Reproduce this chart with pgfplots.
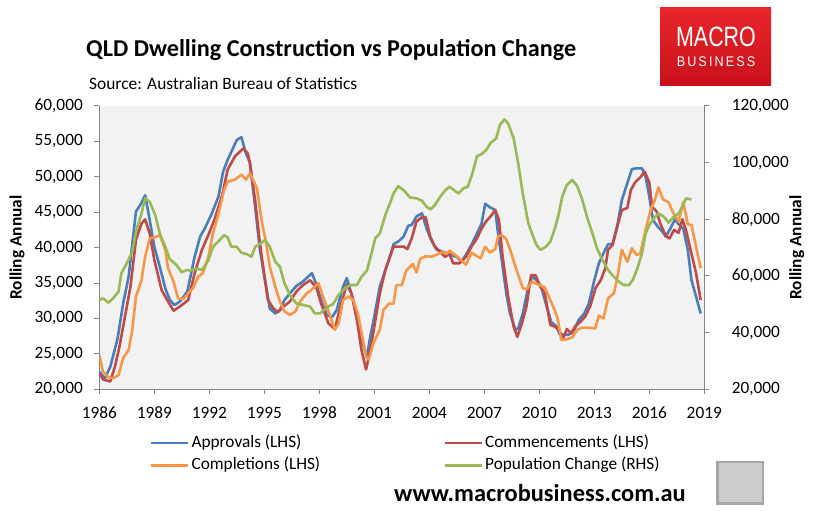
\documentclass[border=0pt]{standalone}
\usepackage{fontspec}
\setmainfont{Carlito}
\newfontfamily\logofont{Liberation Sans}
\usepackage{pgfplots}
\pgfplotsset{compat=1.18}
\definecolor{cblue}{HTML}{4A7EBB}
\definecolor{cred}{HTML}{BE4B48}
\definecolor{corange}{HTML}{F79646}
\definecolor{cgreen}{HTML}{98B954}
\definecolor{axgray}{HTML}{868686}
\definecolor{plotbg}{HTML}{F2F2F2}
\definecolor{mbred}{HTML}{E8262B}
\definecolor{mbdark}{HTML}{C8101A}

\pgfplotstableread{
x y
1986.0 22500
1986.3 21500
1986.6 23200
1987.0 27200
1987.3 32100
1987.6 35900
1988.0 45100
1988.3 46300
1988.5 47400
1988.75 43900
1989.0 40150
1989.3 37300
1989.6 34260
1989.85 32600
1990.1 31900
1990.4 32400
1990.8 33800
1991.2 38700
1991.5 41560
1991.75 42700
1992.1 44600
1992.5 47200
1992.75 50700
1993.0 52400
1993.5 55200
1993.75 55600
1994.0 53300
1994.22 52000
1994.5 45800
1994.76 39700
1995.04 35400
1995.3 31400
1995.6 30700
1995.85 31200
1996.1 32600
1996.4 33550
1996.75 34600
1997.1 35200
1997.6 36400
1997.85 34700
1998.1 32600
1998.4 30500
1998.7 30200
1998.95 31200
1999.3 34500
1999.5 35700
1999.75 33550
2000.05 30700
2000.3 27000
2000.6 24600
2000.75 27000
2001.0 30260
2001.3 34500
2001.6 36800
2001.85 38700
2002.05 40500
2002.3 40850
2002.6 41560
2002.85 43100
2003.04 43200
2003.3 44400
2003.6 44850
2003.85 42700
2004.1 41100
2004.4 39700
2004.76 39400
2005.1 39000
2005.5 38700
2005.75 38000
2006.0 39000
2006.3 40400
2006.6 42000
2006.85 43400
2007.05 46200
2007.3 45700
2007.6 45300
2007.75 42000
2007.95 38300
2008.2 33550
2008.4 30700
2008.7 28400
2008.85 28600
2009.1 30700
2009.4 34500
2009.6 35900
2009.85 35400
2010.1 34500
2010.4 31700
2010.65 29500
2010.95 28850
2011.1 27800
2011.35 27700
2011.6 27700
2011.9 28400
2012.15 29800
2012.45 30700
2012.7 32100
2013.0 35400
2013.25 37800
2013.5 39200
2013.75 40500
2014.0 40500
2014.25 43000
2014.5 46700
2014.8 49100
2015.05 51100
2015.3 51200
2015.6 51200
2015.8 50000
2016.0 47200
2016.2 43900
2016.45 43000
2016.7 42300
2016.9 41560
2017.15 42700
2017.4 44000
2017.6 43300
2017.85 42700
2018.1 39700
2018.3 35400
2018.55 33100
2018.8 30700
}\approvals

\pgfplotstableread{
x y
1986.0 22260
1986.2 21400
1986.6 21100
1986.85 23200
1987.1 26000
1987.4 30260
1987.7 34500
1988.0 41100
1988.3 43400
1988.5 44000
1988.75 42000
1989.0 38300
1989.4 34000
1989.75 32400
1990.05 31100
1990.4 31700
1990.85 32600
1991.2 36400
1991.6 39700
1991.95 41800
1992.3 44100
1992.7 47400
1993.0 51000
1993.4 52900
1993.85 54000
1994.1 53300
1994.22 51800
1994.5 46700
1994.76 40600
1995.04 35400
1995.2 32600
1995.5 31400
1995.75 30900
1996.05 31700
1996.4 32400
1996.75 33800
1997.1 34700
1997.5 35400
1997.85 34300
1998.1 32100
1998.5 29300
1998.85 28500
1999.1 31200
1999.5 34800
1999.75 33550
2000.05 29800
2000.3 25550
2000.55 22800
2000.75 25100
2001.0 28850
2001.3 33550
2001.6 36800
2001.85 38700
2002.05 40150
2002.3 40150
2002.6 40150
2002.8 39800
2003.04 41300
2003.3 43700
2003.6 44300
2003.8 44300
2004.05 41560
2004.3 40150
2004.6 39400
2004.85 38700
2005.1 39100
2005.3 37800
2005.65 37800
2006.0 38700
2006.3 40150
2006.6 41300
2006.85 42700
2007.1 43700
2007.4 44600
2007.6 45300
2007.8 43900
2008.0 38700
2008.3 33100
2008.6 28850
2008.8 27400
2009.05 29300
2009.3 31700
2009.55 36100
2009.8 36100
2010.05 34500
2010.3 33550
2010.6 29100
2010.85 28850
2011.07 28400
2011.3 27200
2011.5 28500
2011.75 27900
2011.95 28850
2012.25 29550
2012.5 30260
2012.8 31900
2013.07 34300
2013.35 35400
2013.6 37100
2013.75 39700
2014.0 40400
2014.25 43000
2014.5 45300
2014.8 45600
2015.0 48200
2015.25 49300
2015.5 49900
2015.75 50700
2016.0 49200
2016.15 45800
2016.4 45100
2016.6 43400
2016.9 41650
2017.1 41300
2017.35 42500
2017.6 42100
2017.8 44000
2018.0 42500
2018.25 39700
2018.55 36400
2018.8 32600
}\commencements

\pgfplotstableread{
x y
1986.0 24850
1986.2 22500
1986.5 21700
1986.75 21550
1987.05 22000
1987.3 24400
1987.6 25550
1987.8 28400
1988.0 33100
1988.3 35400
1988.5 38700
1988.75 41300
1989.05 41450
1989.3 41800
1989.6 39700
1989.75 37100
1990.05 35200
1990.3 32800
1990.6 32800
1990.85 33550
1991.1 34260
1991.4 35900
1991.65 36400
1991.95 38700
1992.2 42000
1992.5 44800
1992.8 48100
1993.0 49300
1993.4 49600
1993.75 50300
1994.0 49600
1994.22 50500
1994.6 48400
1994.85 43900
1995.1 40600
1995.3 37300
1995.6 34500
1995.85 32400
1996.1 31000
1996.4 30500
1996.7 31000
1996.95 32400
1997.3 33500
1997.6 34100
1997.95 35000
1998.2 33100
1998.6 30300
1998.85 28400
1999.05 29300
1999.3 32600
1999.6 33100
1999.85 32600
2000.1 30700
2000.35 27400
2000.55 24600
2000.7 24200
2000.95 26500
2001.3 28400
2001.5 31200
2001.8 32100
2002.05 32100
2002.2 34700
2002.5 34700
2002.75 36800
2003.1 37700
2003.3 36500
2003.5 38400
2003.8 38800
2004.1 38700
2004.4 39000
2004.7 39400
2004.95 39100
2005.1 39600
2005.4 39000
2005.7 38300
2006.0 37600
2006.3 39300
2006.6 38800
2006.8 38500
2007.05 40150
2007.3 39300
2007.6 39800
2007.75 41560
2007.95 41800
2008.2 41200
2008.45 39400
2008.7 37300
2008.95 35400
2009.1 34300
2009.3 34100
2009.6 35200
2009.85 34900
2010.1 34600
2010.3 34400
2010.6 32600
2010.85 31100
2011.0 30000
2011.2 26970
2011.5 27060
2011.8 27350
2012.07 28400
2012.35 28700
2012.7 28700
2013.05 28600
2013.25 30400
2013.5 30000
2013.75 32850
2014.07 33550
2014.3 36400
2014.5 39700
2014.8 38000
2015.05 39900
2015.3 39000
2015.5 39100
2015.8 42500
2016.07 45300
2016.3 46700
2016.5 48500
2016.75 46800
2017.05 46400
2017.3 44900
2017.6 43700
2017.85 46400
2018.1 43300
2018.3 43200
2018.55 40150
2018.8 37100
}\completions

\pgfplotstableread{
x y
1986.0 51500
1986.2 52100
1986.5 50600
1986.75 52100
1987.05 54500
1987.2 60900
1987.5 64450
1987.8 68600
1988.0 75600
1988.3 82100
1988.5 87400
1988.75 86200
1989.05 81500
1989.3 75000
1989.6 70300
1989.85 65900
1990.2 63900
1990.5 61300
1990.75 62100
1991.0 61900
1991.3 62700
1991.6 62100
1991.95 65600
1992.2 70300
1992.6 72900
1992.8 74400
1993.0 73600
1993.2 70300
1993.5 70300
1993.75 68200
1994.05 67700
1994.3 66800
1994.5 70300
1994.76 71300
1995.04 72700
1995.3 70300
1995.6 65000
1995.85 63300
1996.1 57400
1996.4 53300
1996.75 50300
1997.1 49800
1997.5 49200
1997.75 46800
1998.05 46800
1998.4 48900
1998.75 50100
1999.05 53300
1999.4 55600
1999.7 56800
2000.05 56800
2000.3 59700
2000.6 61900
2000.85 68000
2001.05 73300
2001.3 75000
2001.6 81500
2001.85 85600
2002.05 89100
2002.3 91700
2002.6 90300
2002.95 87700
2003.3 87400
2003.6 86600
2003.85 84400
2004.07 83500
2004.3 85000
2004.6 88000
2004.85 90100
2005.1 91500
2005.35 90300
2005.6 89100
2005.85 90900
2006.1 91500
2006.35 96200
2006.6 102300
2006.85 103000
2007.1 104400
2007.35 107000
2007.65 108600
2007.85 113300
2008.1 115300
2008.3 113800
2008.6 108600
2008.85 99700
2009.1 89100
2009.4 78600
2009.6 75000
2009.85 70900
2010.07 69200
2010.35 70300
2010.6 72100
2010.85 76800
2011.05 81500
2011.25 88000
2011.5 92100
2011.8 93900
2012.07 91700
2012.35 86800
2012.6 80900
2012.9 75000
2013.15 69700
2013.45 65600
2013.75 62100
2014.07 59700
2014.35 58000
2014.6 56800
2014.9 56800
2015.1 58600
2015.35 62700
2015.6 68000
2015.8 75000
2016.0 78000
2016.25 80300
2016.5 82100
2016.8 80900
2017.05 78800
2017.3 80700
2017.6 82100
2017.8 84400
2018.0 87400
2018.3 87000
}\population

\pgfplotsset{
  mystyle/.style={
    at={(99.3pt,134.7pt)}, anchor=south west,
    scale only axis, width=605pt, height=283.3pt,
    xmin=1986, xmax=2019,
    axis line style={axgray, line width=1pt},
    tick style={axgray, line width=1pt},
    tick align=outside, major tick length=5pt,
    scaled ticks=false,
    /pgf/number format/fixed,
    /pgf/number format/precision=0,
    /pgf/number format/1000 sep={,},
    /pgf/number format/assume math mode=true,
  },
}

\begin{document}
\begin{tikzpicture}[x=1pt,y=1pt]
\useasboundingbox (0,0) rectangle (819,524);
\fill[white] (0,0) rectangle (819,524);

% title and source
\node[anchor=west, inner sep=0pt] at (86,474) {\fontsize{24.2}{28}\selectfont\bfseries QLD Dwelling Construction vs Population Change};
\node[anchor=west, inner sep=0pt] at (89,440) {\fontsize{17.4}{20}\selectfont Source: Australian Bureau of Statistics};

% logo
\shade[top color=mbred, bottom color=mbdark] (660,438) rectangle (771,516);
\node[white, inner sep=0pt] at (716,487) {\logofont\fontsize{28}{28}\selectfont\scalebox{0.765}[1]{MACRO}};
\node[white, inner sep=0pt] at (716,462) {\logofont\fontsize{14}{14}\selectfont\scalebox{0.9}[1]{B\,U\,S\,I\,N\,E\,S\,S}};

% website and wolf box
\node[inner sep=0pt] at (540,31) {\fontsize{24.4}{28}\selectfont\bfseries www.macrobusiness.com.au};
\filldraw[fill=gray!40, draw=gray!70, line width=2.5pt] (717.5,20.5) rectangle (763,62);

\begin{axis}[
  mystyle,
  ticklabel style={font=\fontsize{17.3}{20}\selectfont},
  ymin=20000, ymax=60000,
  ytick={20000,25000,...,60000},
  xtick={1986,1989,...,2019},
  axis background/.style={fill=plotbg},
  axis x line*=bottom, axis y line*=left,
  xticklabel style={/pgf/number format/1000 sep={}, yshift=-9pt},
  yticklabel style={xshift=-8pt},
  ylabel={\bfseries Rolling Annual},
  ylabel style={font=\fontsize{17.3}{20}\selectfont, at={(axis description cs:-0.136,0.5)}, anchor=center},
  legend columns=2,
  legend cell align=left,
  legend image code/.code={\draw[#1] (0pt,0pt) -- (37pt,0pt);},
  legend style={draw=none, fill=none, inner sep=0pt, outer sep=0pt,
    at={(0.0837,-0.162)}, anchor=north west,
    font=\fontsize{17.3}{20}\selectfont,
    nodes={inner sep=0pt, text height=12pt, text depth=4pt},
    /tikz/every odd column/.append style={column sep=2pt},
    /tikz/every even column/.append style={column sep=0pt},
    row sep=6.6pt},
]
\addplot[cblue, line width=2.6pt, line join=round] table {\approvals};
\addlegendentry{\makebox[252pt][l]{Approvals (LHS)}}
\addplot[cred, line width=2.6pt, line join=round] table {\commencements};
\addlegendentry{Commencements (LHS)}
\addplot[corange, line width=2.6pt, line join=round] table {\completions};
\addlegendentry{\makebox[252pt][l]{Completions (LHS)}}
\addlegendimage{cgreen, line width=2.6pt}
\addlegendentry{Population Change (RHS)}
\end{axis}

\begin{axis}[
  mystyle,
  ymin=20000, ymax=120000,
  ytick={20000,40000,...,120000},
  axis x line=none, axis y line*=right,
  ticklabel style={font=\fontsize{17.3}{20}\selectfont, xshift=19pt},
  yticklabel={\makebox[57pt][l]{\pgfmathprintnumber{\tick}}},
  ylabel={\bfseries Rolling Annual},
  ylabel style={font=\fontsize{17.3}{20}\selectfont, at={(axis description cs:1.153,0.5)}, anchor=center},
]
\addplot[cgreen, line width=2.6pt, line join=round] table {\population};
\end{axis}
\end{tikzpicture}
\end{document}
